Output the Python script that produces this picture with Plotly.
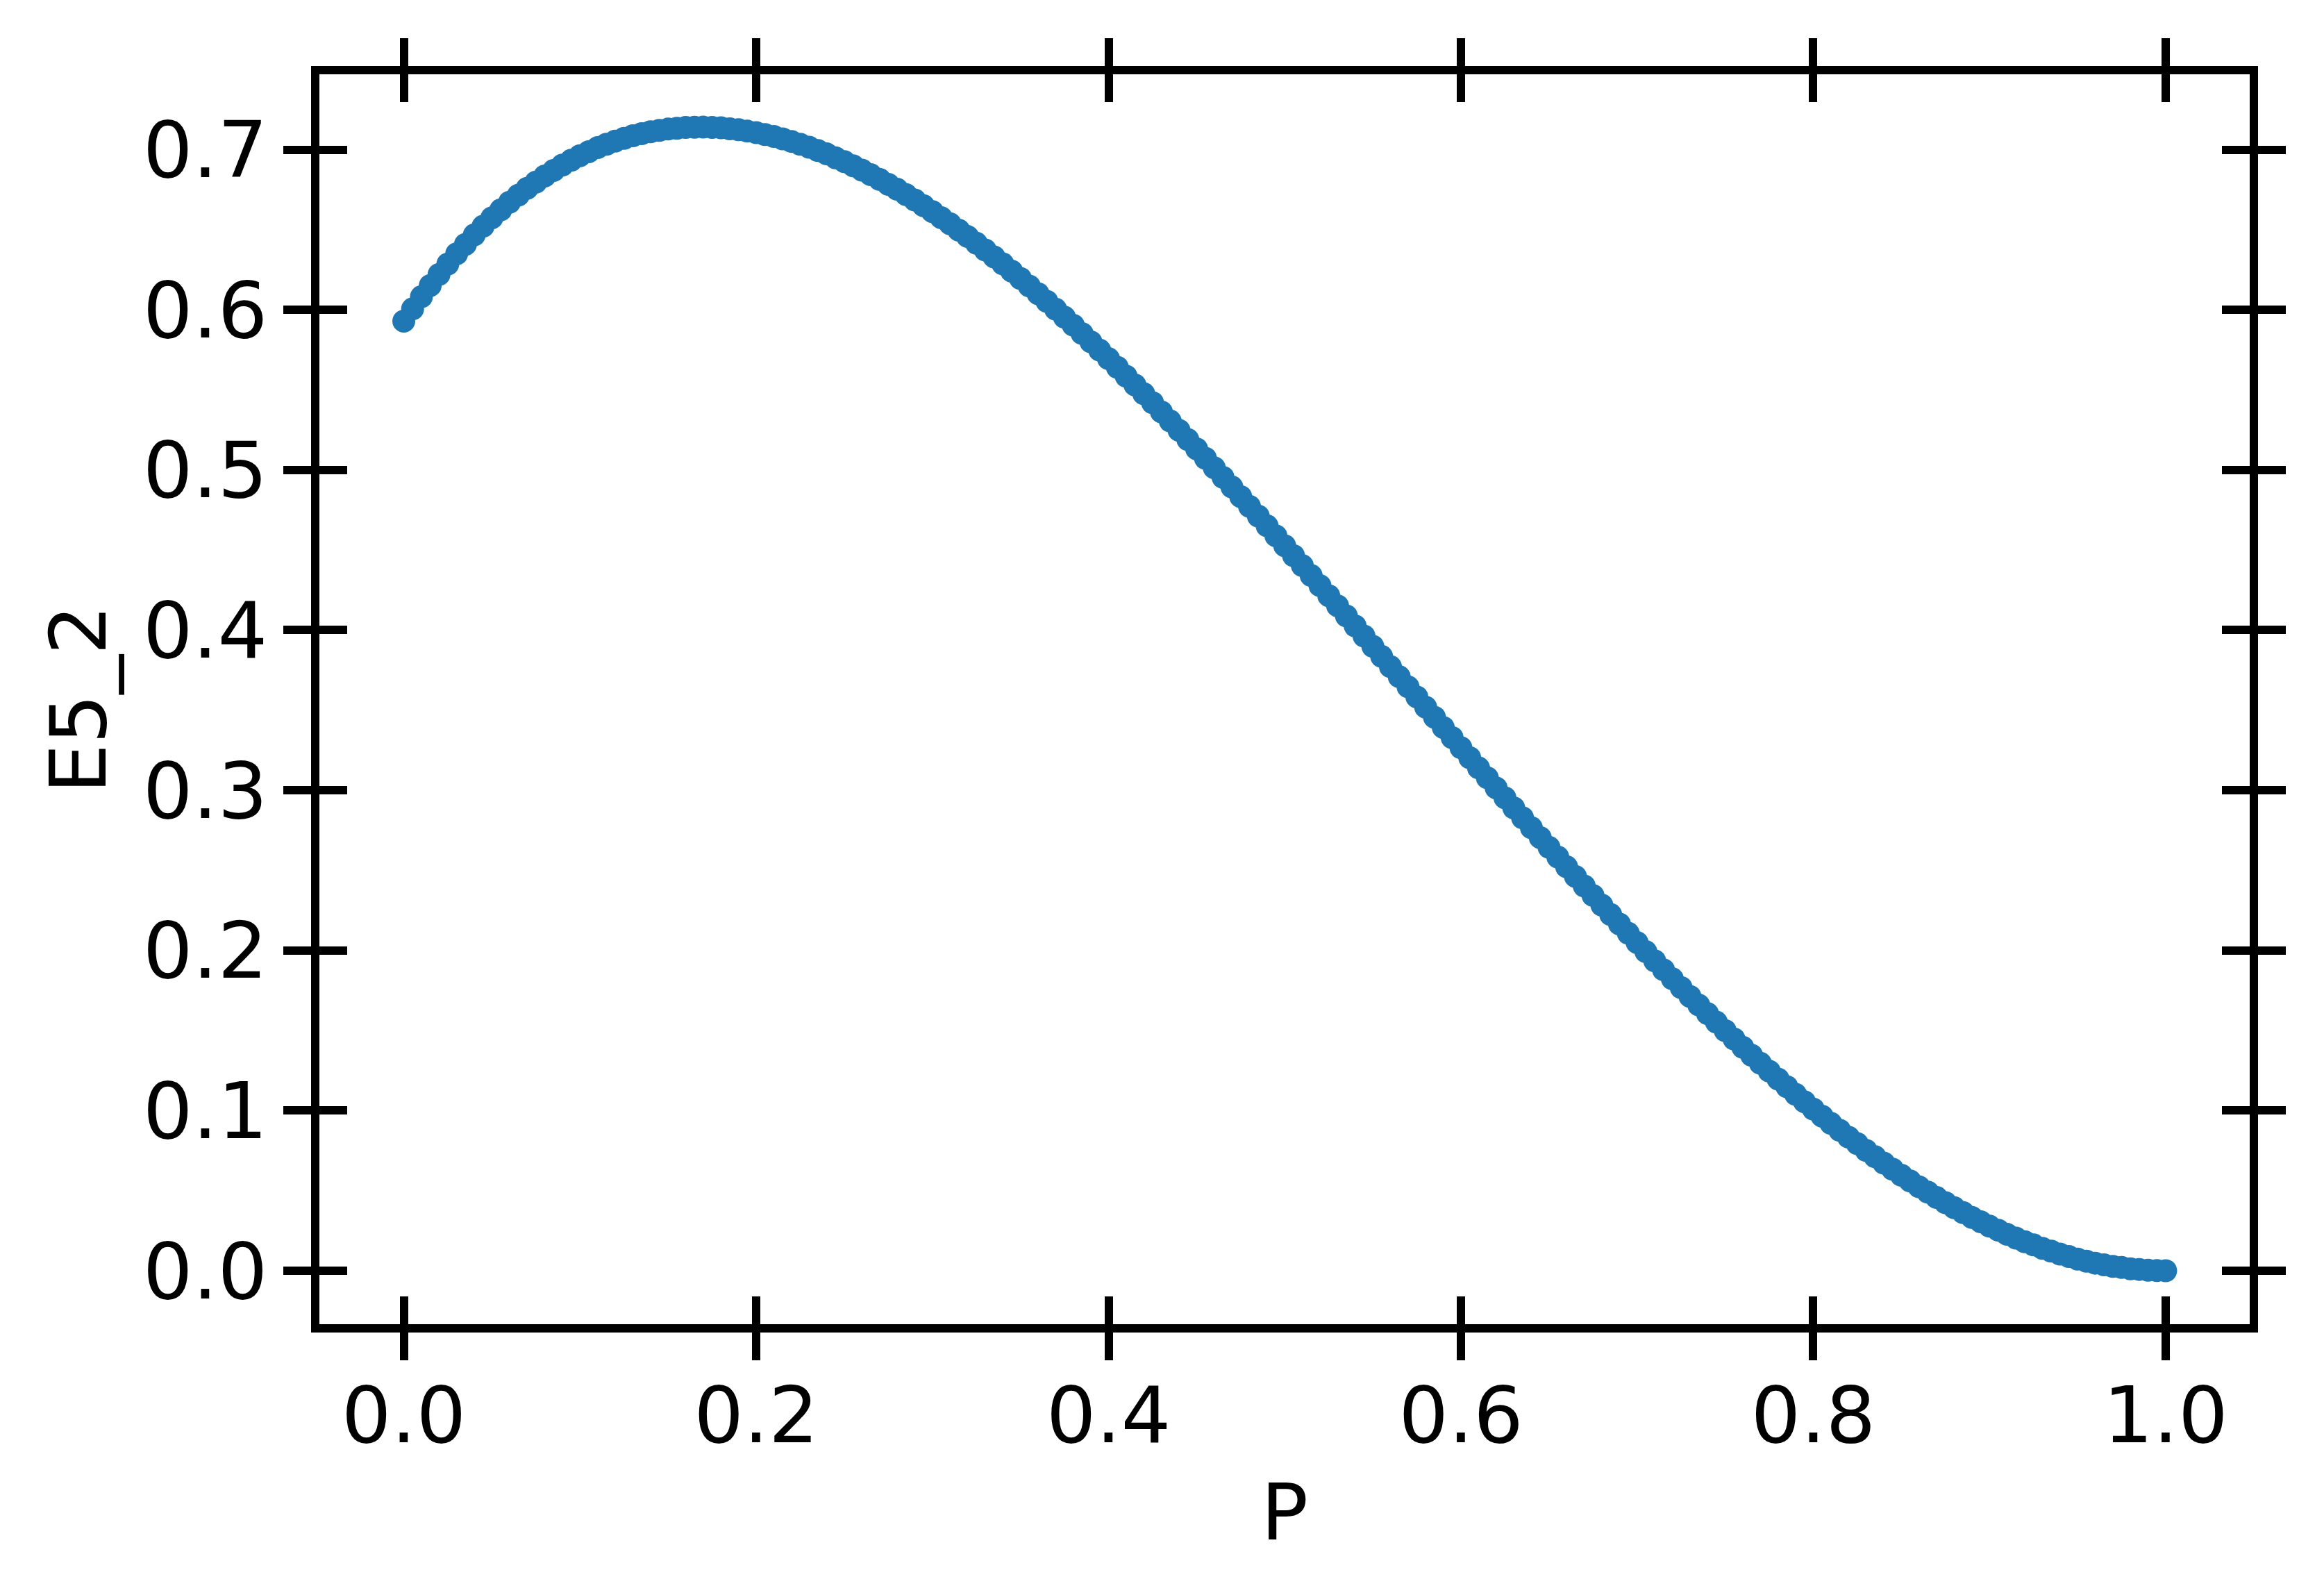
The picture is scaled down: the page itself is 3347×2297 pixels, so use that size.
import plotly.graph_objects as go

# P values (x) and E5_2 values (y)
P = [0.000, 0.005, 0.010, 0.015, 0.020, 0.025, 0.030, 0.035, 0.040, 0.045,
     0.050, 0.055, 0.060, 0.065, 0.070, 0.075, 0.080, 0.085, 0.090, 0.095,
     0.100, 0.105, 0.110, 0.115, 0.120, 0.125, 0.130, 0.135, 0.140, 0.145,
     0.150, 0.155, 0.160, 0.165, 0.170, 0.175, 0.180, 0.185, 0.190, 0.195,
     0.200, 0.205, 0.210, 0.215, 0.220, 0.225, 0.230, 0.235, 0.240, 0.245,
     0.250, 0.255, 0.260, 0.265, 0.270, 0.275, 0.280, 0.285, 0.290, 0.295,
     0.300, 0.305, 0.310, 0.315, 0.320, 0.325, 0.330, 0.335, 0.340, 0.345,
     0.350, 0.355, 0.360, 0.365, 0.370, 0.375, 0.380, 0.385, 0.390, 0.395,
     0.400, 0.405, 0.410, 0.415, 0.420, 0.425, 0.430, 0.435, 0.440, 0.445,
     0.450, 0.455, 0.460, 0.465, 0.470, 0.475, 0.480, 0.485, 0.490, 0.495,
     0.500, 0.505, 0.510, 0.515, 0.520, 0.525, 0.530, 0.535, 0.540, 0.545,
     0.550, 0.555, 0.560, 0.565, 0.570, 0.575, 0.580, 0.585, 0.590, 0.595,
     0.600, 0.605, 0.610, 0.615, 0.620, 0.625, 0.630, 0.635, 0.640, 0.645,
     0.650, 0.655, 0.660, 0.665, 0.670, 0.675, 0.680, 0.685, 0.690, 0.695,
     0.700, 0.705, 0.710, 0.715, 0.720, 0.725, 0.730, 0.735, 0.740, 0.745,
     0.750, 0.755, 0.760, 0.765, 0.770, 0.775, 0.780, 0.785, 0.790, 0.795,
     0.800, 0.805, 0.810, 0.815, 0.820, 0.825, 0.830, 0.835, 0.840, 0.845,
     0.850, 0.855, 0.860, 0.865, 0.870, 0.875, 0.880, 0.885, 0.890, 0.895,
     0.900, 0.905, 0.910, 0.915, 0.920, 0.925, 0.930, 0.935, 0.940, 0.945,
     0.950, 0.955, 0.960, 0.965, 0.970, 0.975, 0.980, 0.985, 0.990, 0.995,
     1.000]

E5_2 = [0.5930, 0.6006, 0.6082, 0.6152, 0.6221, 0.6286, 0.6350, 0.6409, 0.6468, 0.6522,
        0.6575, 0.6624, 0.6672, 0.6716, 0.6759, 0.6798, 0.6836, 0.6870, 0.6904, 0.6934,
        0.6963, 0.6988, 0.7013, 0.7034, 0.7054, 0.7071, 0.7087, 0.7100, 0.7112, 0.7121,
        0.7129, 0.7134, 0.7139, 0.7140, 0.7141, 0.7139, 0.7137, 0.7131, 0.7125, 0.7116,
        0.7107, 0.7095, 0.7083, 0.7068, 0.7052, 0.7034, 0.7016, 0.6995, 0.6974, 0.6950,
        0.6926, 0.6900, 0.6873, 0.6844, 0.6815, 0.6784, 0.6753, 0.6720, 0.6686, 0.6650,
        0.6614, 0.6576, 0.6538, 0.6498, 0.6458, 0.6416, 0.6374, 0.6331, 0.6287, 0.6242,
        0.6196, 0.6149, 0.6101, 0.6053, 0.6004, 0.5954, 0.5904, 0.5852, 0.5800, 0.5748,
        0.5695, 0.5641, 0.5586, 0.5531, 0.5476, 0.5420, 0.5363, 0.5306, 0.5248, 0.5190,
        0.5132, 0.5073, 0.5014, 0.4954, 0.4894, 0.4834, 0.4773, 0.4712, 0.4651, 0.4589,
        0.4527, 0.4465, 0.4403, 0.4341, 0.4278, 0.4215, 0.4152, 0.4089, 0.4026, 0.3963,
        0.3899, 0.3836, 0.3772, 0.3709, 0.3646, 0.3583, 0.3519, 0.3456, 0.3392, 0.3329,
        0.3266, 0.3203, 0.3140, 0.3078, 0.3015, 0.2953, 0.2890, 0.2828, 0.2766, 0.2705,
        0.2644, 0.2583, 0.2522, 0.2462, 0.2402, 0.2343, 0.2283, 0.2224, 0.2165, 0.2107,
        0.2049, 0.1992, 0.1935, 0.1879, 0.1823, 0.1768, 0.1713, 0.1659, 0.1605, 0.1552,
        0.1499, 0.1447, 0.1395, 0.1345, 0.1295, 0.1246, 0.1197, 0.1149, 0.1101, 0.1055,
        0.1009, 0.0965, 0.0920, 0.0877, 0.0834, 0.0793, 0.0751, 0.0712, 0.0672, 0.0634,
        0.0596, 0.0560, 0.0524, 0.0491, 0.0457, 0.0425, 0.0393, 0.0363, 0.0333, 0.0306,
        0.0278, 0.0253, 0.0227, 0.0204, 0.0181, 0.0161, 0.0140, 0.0122, 0.0104, 0.0089,
        0.0073, 0.0060, 0.0047, 0.0037, 0.0027, 0.0020, 0.0012, 0.0008, 0.0003, 0.0001,
        0.0000]

x_ticks = [0.0, 0.2, 0.4, 0.6, 0.8, 1.0]
y_ticks = [0.0, 0.1, 0.2, 0.3, 0.4, 0.5, 0.6, 0.7]

# the page body adds an 8 px offset, so the figure is 8 px smaller
OFF = 8
W, H = 3347 - OFF, 2297 - OFF
FONT = "DejaVu Sans"
FS = 113
LW = 12
TL = 40
XR = [-0.0479, 1.0477]
YR = [-0.0334, 0.7471]

fig = go.Figure()
fig.add_trace(go.Scatter(
    x=P, y=E5_2, mode="markers",
    marker=dict(size=33, color="#1f77b4", line=dict(width=0)),
    showlegend=False, hoverinfo="skip"))
# empty trace so that the overlay axes (inward ticks) are drawn
fig.add_trace(go.Scatter(x=[None], y=[None], xaxis="x2", yaxis="y2",
                         mode="markers", showlegend=False, hoverinfo="skip"))

common = dict(showgrid=False, zeroline=False, showline=True, linecolor="black",
              linewidth=LW, tickcolor="black", tickwidth=LW, ticklen=TL,
              mirror="ticks", tickmode="array",
              tickfont=dict(family=FONT, size=FS, color="black"))

fig.update_layout(
    width=W, height=H,
    margin=dict(l=460 - OFF, r=3347 - 3240, t=107 - OFF, b=2297 - 1907, pad=0),
    paper_bgcolor="white", plot_bgcolor="white",
    font=dict(family=FONT, size=FS, color="black"),
    xaxis=dict(range=XR, tickvals=x_ticks, ticktext=[f"{v:.1f}" for v in x_ticks],
               ticks="outside", ticklabelstandoff=-18,
               title=dict(text="P", font=dict(family=FONT, size=FS, color="black"), standoff=40),
               **common),
    yaxis=dict(range=YR, tickvals=y_ticks, ticktext=[f"{v:.1f}" for v in y_ticks],
               ticks="outside", ticklabelstandoff=0,
               title=dict(text="E5_2", font=dict(family=FONT, size=FS, color="black"), standoff=20),
               **common),
    xaxis2=dict(range=XR, tickvals=x_ticks, ticks="inside", overlaying="x", anchor="y2",
                showticklabels=False, **common),
    yaxis2=dict(range=YR, tickvals=y_ticks, ticks="inside", overlaying="y", anchor="x2",
                showticklabels=False, **common),
)

fig.write_html("out.html")
